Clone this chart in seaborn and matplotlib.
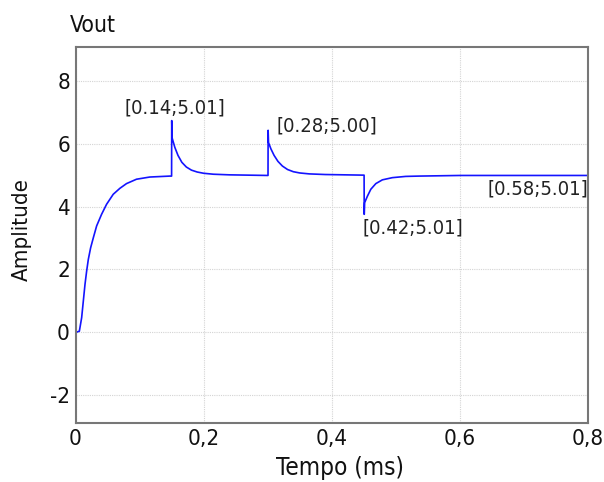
import matplotlib
matplotlib.use("Agg")
import matplotlib.pyplot as plt
import seaborn as sns
import pandas as pd

# ---- data ----
t_ms = [0.000, 0.0018, 0.006, 0.0096, 0.0122, 0.0148, 0.0174, 0.020, 0.0236, 0.0278,
        0.033, 0.0407, 0.0485, 0.0589, 0.0693, 0.0796, 0.0952, 0.116, 0.1470, 0.1500,
        0.1502, 0.1508, 0.1550, 0.1600, 0.1660, 0.1730, 0.1810, 0.1900, 0.2000,
        0.2150, 0.2400, 0.2700, 0.3005,
        0.3007, 0.3013, 0.3050, 0.3100, 0.3160, 0.3230, 0.3310, 0.3400, 0.3500,
        0.3650, 0.3900, 0.4200, 0.4505,
        0.4507, 0.4513, 0.4557, 0.4610, 0.4688, 0.4790, 0.4946, 0.5155, 0.5360,
        0.6000, 0.8000]
vout = [0.00, 0.00, 0.03, 0.46, 0.99, 1.52, 1.95, 2.32, 2.69, 3.01,
        3.39, 3.76, 4.08, 4.40, 4.59, 4.74, 4.88, 4.95, 4.98, 4.98,
        6.75, 6.20, 5.90, 5.64, 5.42, 5.27, 5.17, 5.11, 5.07,
        5.04, 5.02, 5.01, 5.00,
        6.44, 6.05, 5.85, 5.64, 5.45, 5.30, 5.19, 5.12, 5.08,
        5.05, 5.03, 5.02, 5.01,
        3.76, 4.13, 4.34, 4.56, 4.74, 4.86, 4.93, 4.97, 4.98,
        5.00, 5.00]

annot_labels = ["[0.14;5.01]", "[0.28;5.00]", "[0.42;5.01]", "[0.58;5.01]"]
x_ticks = [0, 0.2, 0.4, 0.6, 0.8]
x_tick_labels = ["0", "0,2", "0,4", "0,6", "0,8"]
y_ticks = [-2, 0, 2, 4, 6, 8]
y_tick_labels = ["-2", "0", "2", "4", "6", "8"]

title = "Vout"
xlabel = "Tempo (ms)"
ylabel = "Amplitude"

# ---- layout / style ----
annot_pos = [(0.077, 7.16), (0.313, 6.58), (0.448, 3.33), (0.6436, 4.56)]

sns.set_style("white")
plt.rcParams["font.family"] = ["DejaVu Sans"]
plt.rcParams["font.stretch"] = "condensed"
plt.rcParams["axes.unicode_minus"] = False

fig = plt.figure(figsize=(6.04, 4.82), dpi=100)
ax = fig.add_axes([0.125, 0.1224, 0.8485, 0.7801])

df = pd.DataFrame({"t": t_ms, "v": vout})
sns.lineplot(data=df, x="t", y="v", ax=ax, color="#1414ff", linewidth=1.2,
             estimator=None, sort=False)

ax.set_xlim(0, 0.8)
ax.set_ylim(-2.9, 9.1)
ax.set_xticks(x_ticks)
ax.set_xticklabels(x_tick_labels)
ax.set_yticks(y_ticks)
ax.set_yticklabels(y_tick_labels)
ax.tick_params(axis="both", labelsize=16, length=0, pad=4, labelcolor="#111111")

ax.grid(True, color="#d4d4d4", linestyle=(0, (1, 1)), linewidth=0.8)
for s in ax.spines.values():
    s.set_color("#777777")
    s.set_linewidth(1.5)

ax.set_xlabel(xlabel, fontsize=17.5, color="#111111")
ax.xaxis.set_label_coords(0.516, -0.088)
ax.set_ylabel(ylabel, fontsize=16, color="#111111")
ax.yaxis.set_label_coords(-0.085, 0.515)
fig.text(70 / 604, 1 - 25 / 482, title, fontsize=16.5, color="#111111",
         ha="left", va="center", fontstretch="condensed")

for lab, (x, y) in zip(annot_labels, annot_pos):
    ax.text(x, y, lab, fontsize=14.5, color="#222222", ha="left", va="center",
            fontstretch="condensed")

fig.savefig("out.png", dpi=100)
